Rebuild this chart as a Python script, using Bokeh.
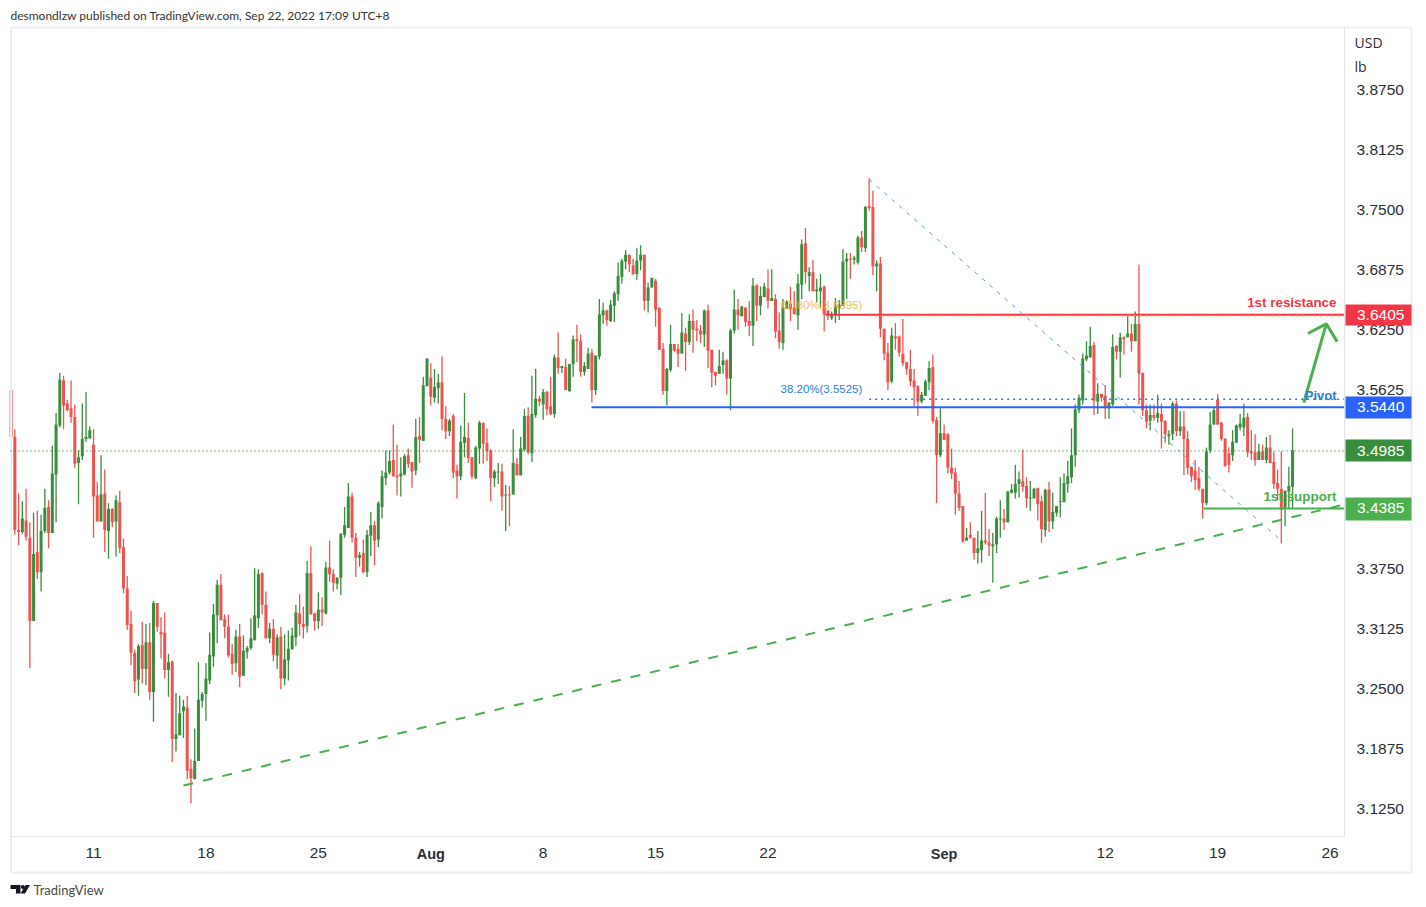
from bokeh.plotting import figure
from bokeh.models import ColumnDataSource, Range1d, FixedTicker, LinearAxis, Label, NumeralTickFormatter
from bokeh.embed import file_html
from bokeh.resources import INLINE

opens = [
3.562,3.513,3.416,3.414,3.426,3.408,3.321,3.393,3.372,3.415,
3.440,3.413,3.474,3.525,3.572,3.548,3.543,3.534,3.486,3.493,
3.511,3.512,3.505,3.452,3.425,3.454,3.415,3.438,3.425,3.445,
3.398,3.355,3.318,3.288,3.260,3.296,3.271,3.299,3.247,3.340,
3.310,3.309,3.270,3.279,3.198,3.202,3.227,3.231,3.167,3.156,
3.175,3.238,3.245,3.259,3.284,3.327,3.359,3.323,3.315,3.287,
3.277,3.305,3.264,3.289,3.293,3.301,3.324,3.371,3.338,3.303,
3.313,3.285,3.305,3.261,3.280,3.292,3.304,3.329,3.318,3.316,
3.371,3.329,3.321,3.333,3.329,3.377,3.370,3.360,3.366,3.411,
3.418,3.451,3.408,3.387,3.392,3.372,3.410,3.421,3.406,3.440,
3.470,3.476,3.489,3.473,3.472,3.474,3.494,3.487,3.478,3.514,
3.509,3.566,3.575,3.554,3.564,3.570,3.532,3.519,3.535,3.478,
3.472,3.507,3.512,3.492,3.470,3.501,3.528,3.507,3.499,3.470,
3.476,3.477,3.452,3.453,3.453,3.485,3.473,3.500,3.535,3.496,
3.536,3.553,3.547,3.560,3.545,3.537,3.596,3.585,3.586,3.561,
3.589,3.615,3.613,3.581,3.584,3.601,3.562,3.597,3.640,3.645,
3.634,3.650,3.662,3.680,3.696,3.703,3.692,3.683,3.697,3.703,
3.655,3.669,3.676,3.648,3.605,3.561,3.583,3.610,3.605,3.600,
3.621,3.612,3.634,3.626,3.624,3.620,3.645,3.604,3.581,3.579,
3.588,3.593,3.574,3.624,3.646,3.639,3.648,3.634,3.629,3.671,
3.650,3.659,3.668,3.655,3.657,3.624,3.611,3.647,3.652,3.648,
3.640,3.672,3.715,3.681,3.685,3.665,3.665,3.670,3.645,3.637,
3.641,3.648,3.650,3.696,3.699,3.698,3.695,3.721,3.710,3.754,
3.753,3.691,3.694,3.626,3.601,3.571,3.618,3.618,3.600,3.591,
3.584,3.572,3.566,3.550,3.556,3.570,3.586,3.531,3.494,3.517,
3.516,3.481,3.476,3.454,3.441,3.405,3.411,3.408,3.392,3.395,
3.405,3.403,3.399,3.401,3.427,3.428,3.424,3.455,3.455,3.464,
3.467,3.462,3.449,3.449,3.460,3.446,3.416,3.458,3.425,3.434,
3.445,3.445,3.464,3.471,3.494,3.541,3.551,3.594,3.596,3.609,
3.550,3.558,3.556,3.543,3.547,3.608,3.602,3.617,3.617,3.621,
3.613,3.631,3.580,3.541,3.530,3.536,3.533,3.537,3.530,3.514,
3.516,3.548,3.519,3.524,3.511,3.482,3.478,3.470,3.459,3.444,
3.499,3.526,3.552,3.528,3.511,3.496,3.494,3.507,3.523,3.523,
3.534,3.498,3.497,3.489,3.498,3.489,3.502,3.487,3.465,3.459,
3.439,3.456,3.461]

closes = [
3.513,3.416,3.414,3.428,3.409,3.321,3.391,3.372,3.415,3.439,
3.413,3.475,3.526,3.573,3.546,3.541,3.534,3.485,3.492,3.511,
3.513,3.520,3.451,3.425,3.453,3.416,3.438,3.424,3.447,3.397,
3.355,3.317,3.288,3.258,3.295,3.271,3.299,3.247,3.340,3.315,
3.307,3.270,3.278,3.198,3.203,3.225,3.232,3.165,3.157,3.175,
3.239,3.245,3.261,3.286,3.328,3.359,3.322,3.315,3.285,3.276,
3.305,3.263,3.290,3.293,3.303,3.327,3.370,3.338,3.303,3.313,
3.286,3.304,3.261,3.281,3.292,3.306,3.330,3.318,3.315,3.371,
3.328,3.321,3.333,3.330,3.377,3.370,3.361,3.366,3.412,3.421,
3.451,3.408,3.387,3.390,3.372,3.411,3.421,3.405,3.444,3.472,
3.476,3.488,3.472,3.471,3.475,3.493,3.485,3.477,3.513,3.510,
3.567,3.595,3.555,3.565,3.570,3.532,3.519,3.530,3.476,3.472,
3.508,3.513,3.491,3.472,3.502,3.528,3.506,3.498,3.470,3.477,
3.477,3.451,3.453,3.452,3.486,3.473,3.501,3.535,3.497,3.537,
3.553,3.550,3.560,3.542,3.537,3.596,3.585,3.587,3.562,3.589,
3.615,3.613,3.581,3.587,3.600,3.562,3.598,3.641,3.645,3.635,
3.651,3.663,3.681,3.697,3.703,3.693,3.683,3.697,3.703,3.655,
3.669,3.679,3.646,3.604,3.561,3.584,3.610,3.603,3.600,3.622,
3.612,3.634,3.625,3.624,3.620,3.645,3.603,3.580,3.577,3.587,
3.593,3.574,3.624,3.646,3.640,3.649,3.633,3.629,3.671,3.650,
3.660,3.670,3.655,3.658,3.623,3.612,3.648,3.654,3.646,3.641,
3.673,3.714,3.685,3.685,3.665,3.667,3.669,3.641,3.640,3.639,
3.649,3.651,3.696,3.699,3.698,3.700,3.721,3.711,3.753,3.752,
3.691,3.694,3.626,3.600,3.570,3.619,3.616,3.601,3.590,3.584,
3.571,3.565,3.550,3.557,3.571,3.585,3.530,3.494,3.517,3.510,
3.481,3.475,3.454,3.439,3.404,3.408,3.408,3.392,3.397,3.405,
3.403,3.400,3.401,3.428,3.428,3.424,3.456,3.458,3.464,3.469,
3.461,3.449,3.450,3.459,3.443,3.417,3.458,3.425,3.435,3.441,
3.446,3.465,3.472,3.494,3.542,3.554,3.595,3.598,3.608,3.551,
3.558,3.554,3.543,3.549,3.607,3.602,3.617,3.615,3.621,3.613,
3.631,3.579,3.541,3.529,3.536,3.533,3.538,3.529,3.516,3.516,
3.548,3.519,3.524,3.511,3.481,3.472,3.468,3.459,3.444,3.498,
3.526,3.541,3.526,3.511,3.483,3.484,3.508,3.525,3.527,3.533,
3.497,3.496,3.489,3.498,3.489,3.502,3.486,3.464,3.459,3.437,
3.457,3.462,3.499]

highs = [
3.570,3.521,3.454,3.446,3.459,3.424,3.434,3.436,3.432,3.459,
3.447,3.504,3.538,3.580,3.577,3.552,3.572,3.547,3.499,3.548,
3.560,3.524,3.521,3.466,3.494,3.479,3.444,3.439,3.452,3.457,
3.407,3.368,3.332,3.291,3.297,3.320,3.318,3.319,3.342,3.340,
3.325,3.330,3.287,3.280,3.246,3.243,3.239,3.243,3.177,3.209,
3.278,3.247,3.277,3.309,3.339,3.364,3.370,3.328,3.328,3.297,
3.312,3.318,3.306,3.295,3.324,3.376,3.375,3.372,3.352,3.319,
3.323,3.307,3.315,3.307,3.311,3.314,3.338,3.349,3.336,3.384,
3.399,3.330,3.351,3.346,3.383,3.405,3.375,3.367,3.413,3.440,
3.465,3.455,3.413,3.393,3.406,3.416,3.435,3.425,3.446,3.478,
3.499,3.499,3.526,3.505,3.492,3.495,3.501,3.487,3.532,3.534,
3.576,3.595,3.590,3.584,3.579,3.597,3.545,3.532,3.537,3.484,
3.525,3.559,3.528,3.492,3.504,3.530,3.528,3.522,3.500,3.479,
3.486,3.485,3.463,3.462,3.521,3.491,3.513,3.542,3.544,3.577,
3.584,3.556,3.563,3.561,3.576,3.599,3.622,3.587,3.595,3.589,
3.619,3.630,3.620,3.591,3.606,3.605,3.598,3.657,3.653,3.646,
3.656,3.665,3.695,3.699,3.708,3.703,3.699,3.710,3.713,3.703,
3.674,3.679,3.678,3.648,3.611,3.585,3.630,3.610,3.610,3.642,
3.627,3.641,3.646,3.635,3.630,3.646,3.651,3.604,3.581,3.604,
3.602,3.594,3.626,3.667,3.657,3.650,3.648,3.655,3.679,3.673,
3.670,3.674,3.688,3.688,3.662,3.643,3.657,3.656,3.670,3.665,
3.683,3.719,3.731,3.690,3.698,3.678,3.683,3.671,3.645,3.644,
3.658,3.656,3.709,3.705,3.705,3.702,3.723,3.728,3.754,3.783,
3.770,3.697,3.701,3.626,3.611,3.627,3.632,3.619,3.636,3.591,
3.604,3.584,3.567,3.560,3.573,3.592,3.599,3.534,3.543,3.526,
3.517,3.501,3.481,3.467,3.441,3.418,3.424,3.408,3.415,3.436,
3.455,3.417,3.413,3.430,3.447,3.438,3.457,3.464,3.484,3.477,
3.500,3.471,3.467,3.460,3.460,3.452,3.459,3.466,3.455,3.441,
3.471,3.475,3.488,3.522,3.547,3.557,3.600,3.613,3.628,3.612,
3.569,3.558,3.567,3.549,3.620,3.609,3.622,3.618,3.641,3.631,
3.644,3.693,3.580,3.547,3.547,3.547,3.557,3.548,3.530,3.520,
3.550,3.551,3.540,3.540,3.519,3.482,3.489,3.482,3.459,3.502,
3.539,3.544,3.558,3.529,3.512,3.502,3.520,3.526,3.537,3.548,
3.538,3.520,3.516,3.506,3.505,3.513,3.515,3.498,3.479,3.498,
3.457,3.482,3.522]

lows = [
3.499,3.411,3.400,3.412,3.405,3.272,3.321,3.365,3.352,3.413,
3.397,3.413,3.424,3.523,3.521,3.540,3.528,3.481,3.443,3.489,
3.508,3.511,3.408,3.425,3.425,3.393,3.386,3.419,3.388,3.392,
3.350,3.312,3.275,3.246,3.243,3.256,3.254,3.239,3.216,3.310,
3.282,3.261,3.242,3.174,3.185,3.202,3.199,3.156,3.131,3.156,
3.175,3.231,3.217,3.255,3.273,3.298,3.322,3.303,3.283,3.265,
3.268,3.252,3.264,3.282,3.291,3.301,3.314,3.328,3.303,3.298,
3.279,3.271,3.250,3.254,3.259,3.291,3.295,3.306,3.303,3.309,
3.328,3.311,3.313,3.316,3.328,3.362,3.352,3.354,3.348,3.408,
3.418,3.403,3.367,3.378,3.371,3.367,3.389,3.379,3.398,3.428,
3.463,3.474,3.472,3.452,3.451,3.473,3.481,3.460,3.473,3.486,
3.509,3.566,3.546,3.549,3.548,3.520,3.511,3.514,3.470,3.449,
3.468,3.492,3.486,3.469,3.469,3.485,3.485,3.488,3.446,3.461,
3.464,3.436,3.415,3.420,3.453,3.473,3.473,3.498,3.495,3.487,
3.533,3.545,3.531,3.536,3.536,3.533,3.579,3.580,3.562,3.560,
3.576,3.591,3.576,3.577,3.584,3.549,3.557,3.594,3.631,3.629,
3.633,3.633,3.655,3.673,3.688,3.685,3.682,3.677,3.687,3.645,
3.643,3.669,3.628,3.604,3.557,3.546,3.581,3.602,3.586,3.600,
3.582,3.609,3.601,3.613,3.611,3.607,3.585,3.565,3.567,3.579,
3.579,3.557,3.541,3.621,3.625,3.639,3.628,3.618,3.608,3.634,
3.640,3.659,3.647,3.655,3.616,3.605,3.604,3.647,3.634,3.641,
3.625,3.657,3.673,3.665,3.665,3.653,3.648,3.623,3.635,3.635,
3.632,3.635,3.650,3.657,3.678,3.693,3.693,3.706,3.706,3.749,
3.682,3.665,3.617,3.593,3.562,3.569,3.604,3.597,3.587,3.578,
3.566,3.545,3.535,3.548,3.556,3.562,3.527,3.444,3.492,3.510,
3.475,3.469,3.432,3.436,3.403,3.405,3.407,3.385,3.381,3.382,
3.401,3.389,3.361,3.392,3.408,3.416,3.424,3.454,3.449,3.450,
3.456,3.439,3.436,3.449,3.426,3.403,3.409,3.414,3.417,3.430,
3.429,3.445,3.455,3.465,3.482,3.538,3.547,3.592,3.596,3.536,
3.537,3.550,3.532,3.532,3.545,3.594,3.575,3.599,3.617,3.602,
3.613,3.547,3.535,3.522,3.520,3.530,3.528,3.501,3.507,3.505,
3.510,3.514,3.514,3.473,3.474,3.466,3.458,3.457,3.428,3.442,
3.496,3.526,3.526,3.509,3.482,3.476,3.488,3.507,3.520,3.514,
3.492,3.489,3.483,3.489,3.489,3.486,3.486,3.459,3.447,3.402,
3.420,3.439,3.439]

price_ticks = [3.125, 3.1875, 3.25, 3.3125, 3.375, 3.4375, 3.5, 3.5625, 3.625, 3.6875, 3.75, 3.8125, 3.875]
date_ticks = [22, 52, 82, 112, 142, 172, 202, 249, 292, 322, 352]
date_labels = ["11", "18", "25", "", "8", "15", "22", "", "12", "19", "26"]
month_labels = [("Aug", 112), ("Sep", 249)]

resistance, pivot, last_price, support = 3.6405, 3.5440, 3.4985, 3.4385
fib_618, fib_382 = 3.6395, 3.5525
fib_x, fib_y = [229, 339.3], [3.7816, 3.404]
trend_x, trend_y = [46, 355.85], [3.1495, 3.4426]
arrow_x, arrow_y = [345, 351], [3.549, 3.631]
head_x, head_y = [346.1, 351, 353.9], [3.621, 3.631, 3.6125]

GREEN, RED = "#388e3c", "#ef5350"
LIGHT_GREEN, BLUE, TAG_RED, FIB_BLUE, ORANGE = "#4caf50", "#2962ff", "#f23645", "#2a7fdb", "#f9a825"
LBL = "Liberation Sans"
BORDER = "#e0e3eb"
TEXT = "#2a2e39"

W, H = 1426, 900

def X(px):
    """page pixel -> candle index axis"""
    return (px - 10.6) / 3.747

def Y(py):
    """page pixel -> price axis"""
    return 3.125 + (808.5 - py) / 958.7

L_EDGE, R_EDGE = X(10), X(1344)

n = len(opens)
assert n == len(closes) == len(highs) == len(lows) == 343
colors = [GREEN if c >= o else RED for o, c in zip(opens, closes)]
src = ColumnDataSource(dict(x=list(range(n)), o=opens, c=closes, h=highs, l=lows, color=colors))

p = figure(width=W, height=H, frame_width=W, frame_height=H,
           x_range=Range1d(X(0), X(W)), y_range=Range1d(Y(H), Y(0)),
           output_backend="svg", toolbar_location=None, min_border=0,
           x_axis_location=None, y_axis_location=None, outline_line_color=None)
p.grid.visible = False
p.background_fill_color = "white"
p.border_fill_color = "white"

ax = LinearAxis(fixed_location=Y(836), bounds=(L_EDGE, R_EDGE), ticker=FixedTicker(ticks=date_ticks),
                major_label_overrides={t: l for t, l in zip(date_ticks, date_labels)})
ay = LinearAxis(fixed_location=R_EDGE, bounds=(Y(836), Y(27)), ticker=FixedTicker(ticks=price_ticks),
                formatter=NumeralTickFormatter(format="0.0000"))
p.add_layout(ax, "below")
p.add_layout(ay, "right")
for a in (ax, ay):
    a.axis_line_color = BORDER
    a.major_tick_line_color = None
    a.minor_tick_line_color = None
    a.major_tick_out = 0
    a.major_label_text_font = LBL
    a.major_label_text_font_size = "15.5px"
    a.major_label_text_color = TEXT
ax.major_label_standoff = 11
ay.major_label_standoff = 12

p.segment("x", "h", "x", "l", source=src, color="color", line_width=1.3)
p.vbar("x", 0.8, "o", "c", source=src, fill_color="color", line_color=None)

# outer frame
p.line([X(10.5), X(1411), X(1411), X(10.5), X(10.5)], [Y(27), Y(27), Y(872), Y(872), Y(27)],
       line_color="#eceef3", line_width=2)

p.line([L_EDGE, R_EDGE], [last_price, last_price], line_color=GREEN, line_width=1.2, line_dash=[1, 3])
p.line([X(825), R_EDGE], [resistance, resistance], line_color=TAG_RED, line_width=2)
p.line([229, R_EDGE], [fib_618, fib_618], line_color=ORANGE, line_width=1.5, line_dash=[2, 4])
p.line([229, R_EDGE], [fib_382, fib_382], line_color=FIB_BLUE, line_width=1.5, line_dash=[2, 4])
p.line([X(591), R_EDGE], [pivot, pivot], line_color=BLUE, line_width=2)
p.line([X(1203), R_EDGE], [support, support], line_color=LIGHT_GREEN, line_width=2)
p.line(fib_x, fib_y, line_color="#5b9ee0", line_width=1, line_dash=[4, 6])
p.line(trend_x, trend_y, line_color=LIGHT_GREEN, line_width=2, line_dash=[10, 10])
p.line(arrow_x, arrow_y, line_color=LIGHT_GREEN, line_width=3)
p.line(head_x, head_y, line_color=LIGHT_GREEN, line_width=3)

def txt(px, py, s, color, size, align="left", weight="normal", alpha=1.0, font=LBL):
    p.add_layout(Label(x=X(px), y=Y(py), text=s, text_color=color, text_alpha=alpha,
                       text_font=font, text_font_size=size, text_align=align, text_baseline="middle",
                       text_font_style=weight))

txt(1336, 302, "1st resistance", TAG_RED, "13.4px", "right", "bold")
txt(1336, 395, "Pivot", FIB_BLUE, "13px", "right", "bold")
txt(1336, 496, "1st support", LIGHT_GREEN, "13.4px", "right", "bold")
txt(780, 388.5, "38.20%(3.5525)", FIB_BLUE, "11.5px")
txt(780, 304.5, "61.80%(3.6395)", ORANGE, "11.5px", alpha=0.8)

for name, x in month_labels:
    p.add_layout(Label(x=x, y=Y(853.5), text=name, text_color=TEXT, text_font=LBL, text_font_size="14.5px",
                       text_align="center", text_baseline="middle", text_font_style="bold"))

# price tags in the axis gutter, painted over the tick labels
for price, col, (py0, py1) in [(resistance, TAG_RED, (304, 325)), (pivot, BLUE, (396, 418)),
                               (last_price, GREEN, (439, 461)), (support, LIGHT_GREEN, (497, 520))]:
    p.quad(left=[X(1345)], right=[X(1411)], top=[Y(py0)], bottom=[Y(py1)],
           fill_color=col, line_color=None, level="annotation")
    p.add_layout(Label(x=X(1356.5), y=price, text=f"{price:.4f}", text_color="white", level="overlay",
                       text_font=LBL, text_font_size="15.5px", text_baseline="middle", text_align="left"))

txt(1354, 42, "USD", TEXT, "14px", font="Open Sans")
txt(1354, 66, "lb", TEXT, "14px", font="Open Sans")
txt(10, 15, "desmondlzw published on TradingView.com, Sep 22, 2022 17:09 UTC+8", "#333333", "12px", font="Lato")
txt(33, 889, "TradingView", "#4a4a4a", "13px", font="Lato")

# TradingView logo
p.patch([X(v) for v in (10, 20, 20, 15.5, 15.5, 10)], [Y(v) for v in (884.5, 884.5, 893, 893, 888.5, 888.5)],
        fill_color="#131722", line_color=None)
p.patch([X(v) for v in (25, 29.5, 24.5, 20)], [Y(v) for v in (884.5, 884.5, 893, 893)],
        fill_color="#131722", line_color=None)
p.scatter([X(22.3)], [Y(886.5)], size=4, fill_color="#131722", line_color=None)

open("out.html", "w").write(file_html(p, INLINE))
